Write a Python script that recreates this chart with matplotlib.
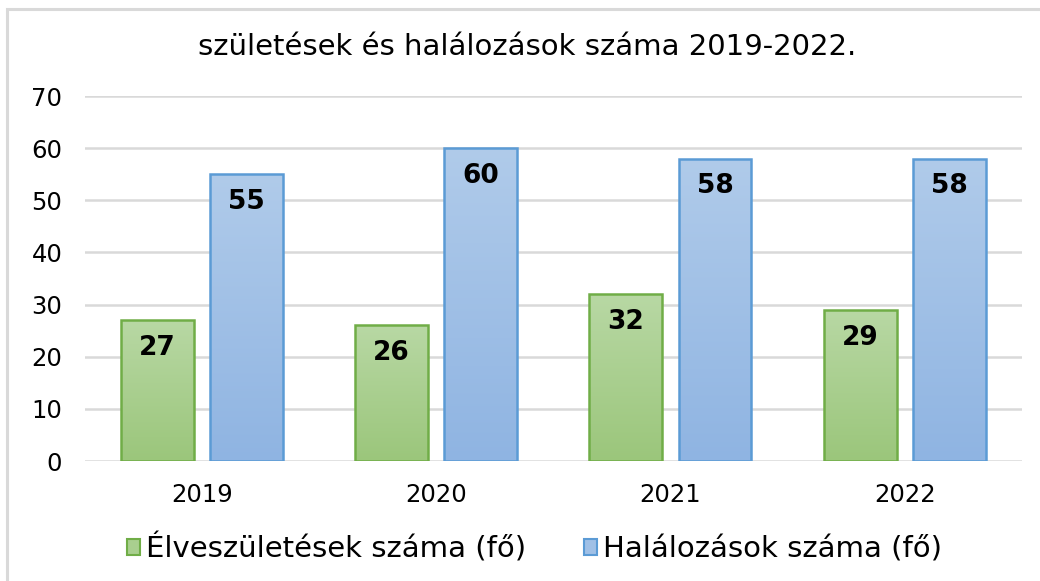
import numpy as np
import matplotlib.pyplot as plt
from matplotlib.patches import Rectangle, Patch

# Chart data
years = ['2019', '2020', '2021', '2022']
births = [27, 26, 32, 29]
deaths = [55, 60, 58, 58]
series_names = ['Élveszületések száma (fő)', 'Halálozások száma (fő)']
title = 'születések és halálozások száma 2019-2022.'

plt.rcParams['font.family'] = ['DejaVu Sans']

fig = plt.figure(figsize=(10.4, 5.81), dpi=100)
ax = fig.add_axes([0.0813, 0.2065, 0.9014, 0.6282])

# outer chart frame (runs off the right and bottom edge)
fig.patches.append(Rectangle((7 / 1040, -0.05), 1.1, 1 - 9 / 581 + 0.05,
                             transform=fig.transFigure, fill=False,
                             edgecolor='#d9d9d9', linewidth=2.2, clip_on=False))

x = np.arange(len(years))
width = 0.311
off = 0.19

# gradient fill: light on top, darker at bottom
def gradient_bars(bars, top_col, bot_col):
    top = np.array(plt.matplotlib.colors.to_rgb(top_col))
    bot = np.array(plt.matplotlib.colors.to_rgb(bot_col))
    t = np.linspace(0, 1, 256)[:, None]
    img = (top * (1 - t) + bot * t)[:, None, :]
    for b in bars:
        x0, y0 = b.get_x(), b.get_y()
        w, h = b.get_width(), b.get_height()
        im = ax.imshow(img, extent=(x0, x0 + w, y0, y0 + h), origin='upper',
                       aspect='auto', zorder=2)
        im.set_clip_path(b)

b1 = ax.bar(x - off, births, width, facecolor='none', edgecolor='#70ad47',
            linewidth=1.8, zorder=3)
b2 = ax.bar(x + off, deaths, width, facecolor='none', edgecolor='#5b9bd5',
            linewidth=1.8, zorder=3)
gradient_bars(b1, '#b8d8a4', '#9bc67b')
gradient_bars(b2, '#b0cbea', '#8fb4e2')

for bars, vals in ((b1, births), (b2, deaths)):
    for b, v in zip(bars, vals):
        ax.annotate(str(v), (b.get_x() + b.get_width() / 2, v),
                    xytext=(0, -20), textcoords='offset points',
                    ha='center', va='center', fontsize=19, fontweight='bold',
                    color='black', zorder=4)

ax.set_xlim(-0.5, 3.5)
ax.set_ylim(0, 70)
ax.set_yticks(range(0, 71, 10))
ax.set_xticks(x)
ax.set_xticklabels(years)
ax.yaxis.grid(True, color='#d9d9d9', linewidth=1.8)
ax.set_axisbelow(True)
for s in ax.spines.values():
    s.set_visible(False)
ax.tick_params(axis='both', length=0, labelsize=17.5, colors='black')
ax.tick_params(axis='y', pad=16)
ax.tick_params(axis='x', pad=16)

fig.text(0.507, 0.919, title, ha='center', va='center', fontsize=21)

handles = [Patch(facecolor='#a9cf8f', edgecolor='#70ad47', linewidth=1.5),
           Patch(facecolor='#a0c0e6', edgecolor='#5b9bd5', linewidth=1.5)]
fig.legend(handles, series_names, loc='center', bbox_to_anchor=(0.514, 0.056),
           ncol=2, frameon=False, fontsize=21, handlelength=0.45,
           handleheight=0.45, handletextpad=0.2, columnspacing=2.0)

fig.savefig('out.png', dpi=100)
